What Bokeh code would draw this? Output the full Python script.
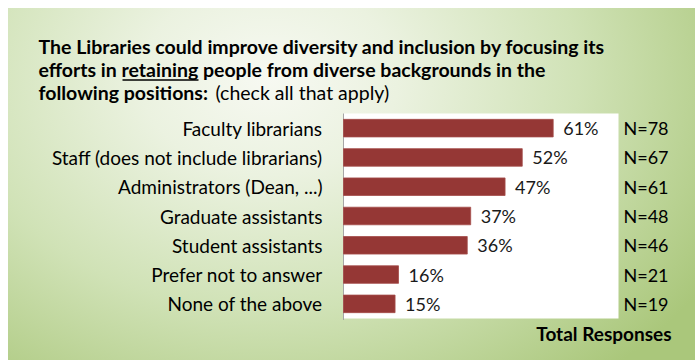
from bokeh.plotting import figure
from bokeh.models import Range1d, Label, ColumnDataSource
from bokeh.core.properties import value
from bokeh.embed import file_html
from bokeh.resources import INLINE

categories = ["Faculty librarians", "Staff (does not include librarians)",
              "Administrators (Dean, ...)", "Graduate assistants",
              "Student assistants", "Prefer not to answer", "None of the above"]
percents = [61, 52, 47, 37, 36, 16, 15]
n_responses = [78, 67, 61, 48, 46, 21, 19]
pct_labels = [f"{v}%" for v in percents]
n_labels = [f"N={n}" for n in n_responses]
x_max = 80

FONT = "Lato"
W, H = 695, 362
FL, FR, FT, FB = 343, 618, 113, 318      # white plot area edges, page px
kx = (FR - FL) / x_max                      # px per percent
ky = (FB - FT) / len(categories)            # px per category row

# the frame covers the whole canvas so that nothing gets clipped
p = figure(width=W, height=H, output_backend="svg", toolbar_location=None,
           title=None, min_border=0,
           x_range=Range1d(-FL / kx, (W - FL) / kx),
           y_range=Range1d((H - FT) / ky, -FT / ky))
p.axis.visible = False
p.grid.visible = False
p.background_fill_color = None
p.border_fill_color = None
p.outline_line_color = None
p.styles = {"background": "radial-gradient(ellipse 75% 110% at 38% 20%, #f7f9f2 0%, #ebf2e0 25%, #d0e2b6 60%, #aac77b 100%) 8px 8px / 687px 352px no-repeat, #ffffff"}

rows = [i + 0.5 for i in range(len(categories))]
src = ColumnDataSource(dict(row=rows, cat=categories, pct=percents,
                            lab=pct_labels, n=n_labels))

# white plotting area and its left axis line
p.quad(left=0, right=x_max, top=0, bottom=len(categories),
       fill_color="white", line_color=None)
p.segment(x0=0, y0=0, x1=0, y1=len(categories) + 1.5 / ky,
          line_color="#a6a6a6", line_width=1)

p.hbar(y="row", right="pct", left=0, height=0.6, source=src,
       fill_color="#953735", line_color="#a54c4a", line_width=0.8)

txt = dict(text_font=value(FONT), text_baseline="middle")
p.text(x="pct", y="row", text="lab", source=src, x_offset=10,
       text_align="left", text_color="#1a1a1a", text_font_size="18px", **txt)
p.text(x=0, y="row", text="cat", source=src, x_offset=-21,
       text_align="right", text_color="#000000", text_font_size="19px", **txt)
p.text(x=x_max, y="row", text="n", source=src, x_offset=5,
       text_align="left", text_color="#000000", text_font_size="18px", **txt)

def lab(x, y, text, bold=True, align="left", baseline="alphabetic", size="19.5px"):
    p.add_layout(Label(x=x, y=H - y, x_units="screen", y_units="screen",
                       text=text, text_font=FONT, text_font_size=size,
                       text_font_style="bold" if bold else "normal",
                       text_color="#000000", text_align=align,
                       text_baseline=baseline))

lab(38, 46, "The Libraries could improve diversity and inclusion by focusing its")
lab(38, 68.5, "efforts in retaining people from diverse backgrounds in the")
lab(38, 91.5, "following positions:")
lab(215, 91.5, "(check all that apply)", bold=False)
lab(671, 333, "Total Responses", align="right", baseline="middle", size="19px")

# underline of "retaining"
uy = (79.5 - FT) / ky
p.segment(x0=(122 - FL) / kx, y0=uy, x1=(198 - FL) / kx, y1=uy,
          line_color="#000000", line_width=1.3)

open("out.html", "w").write(file_html(p, INLINE))
